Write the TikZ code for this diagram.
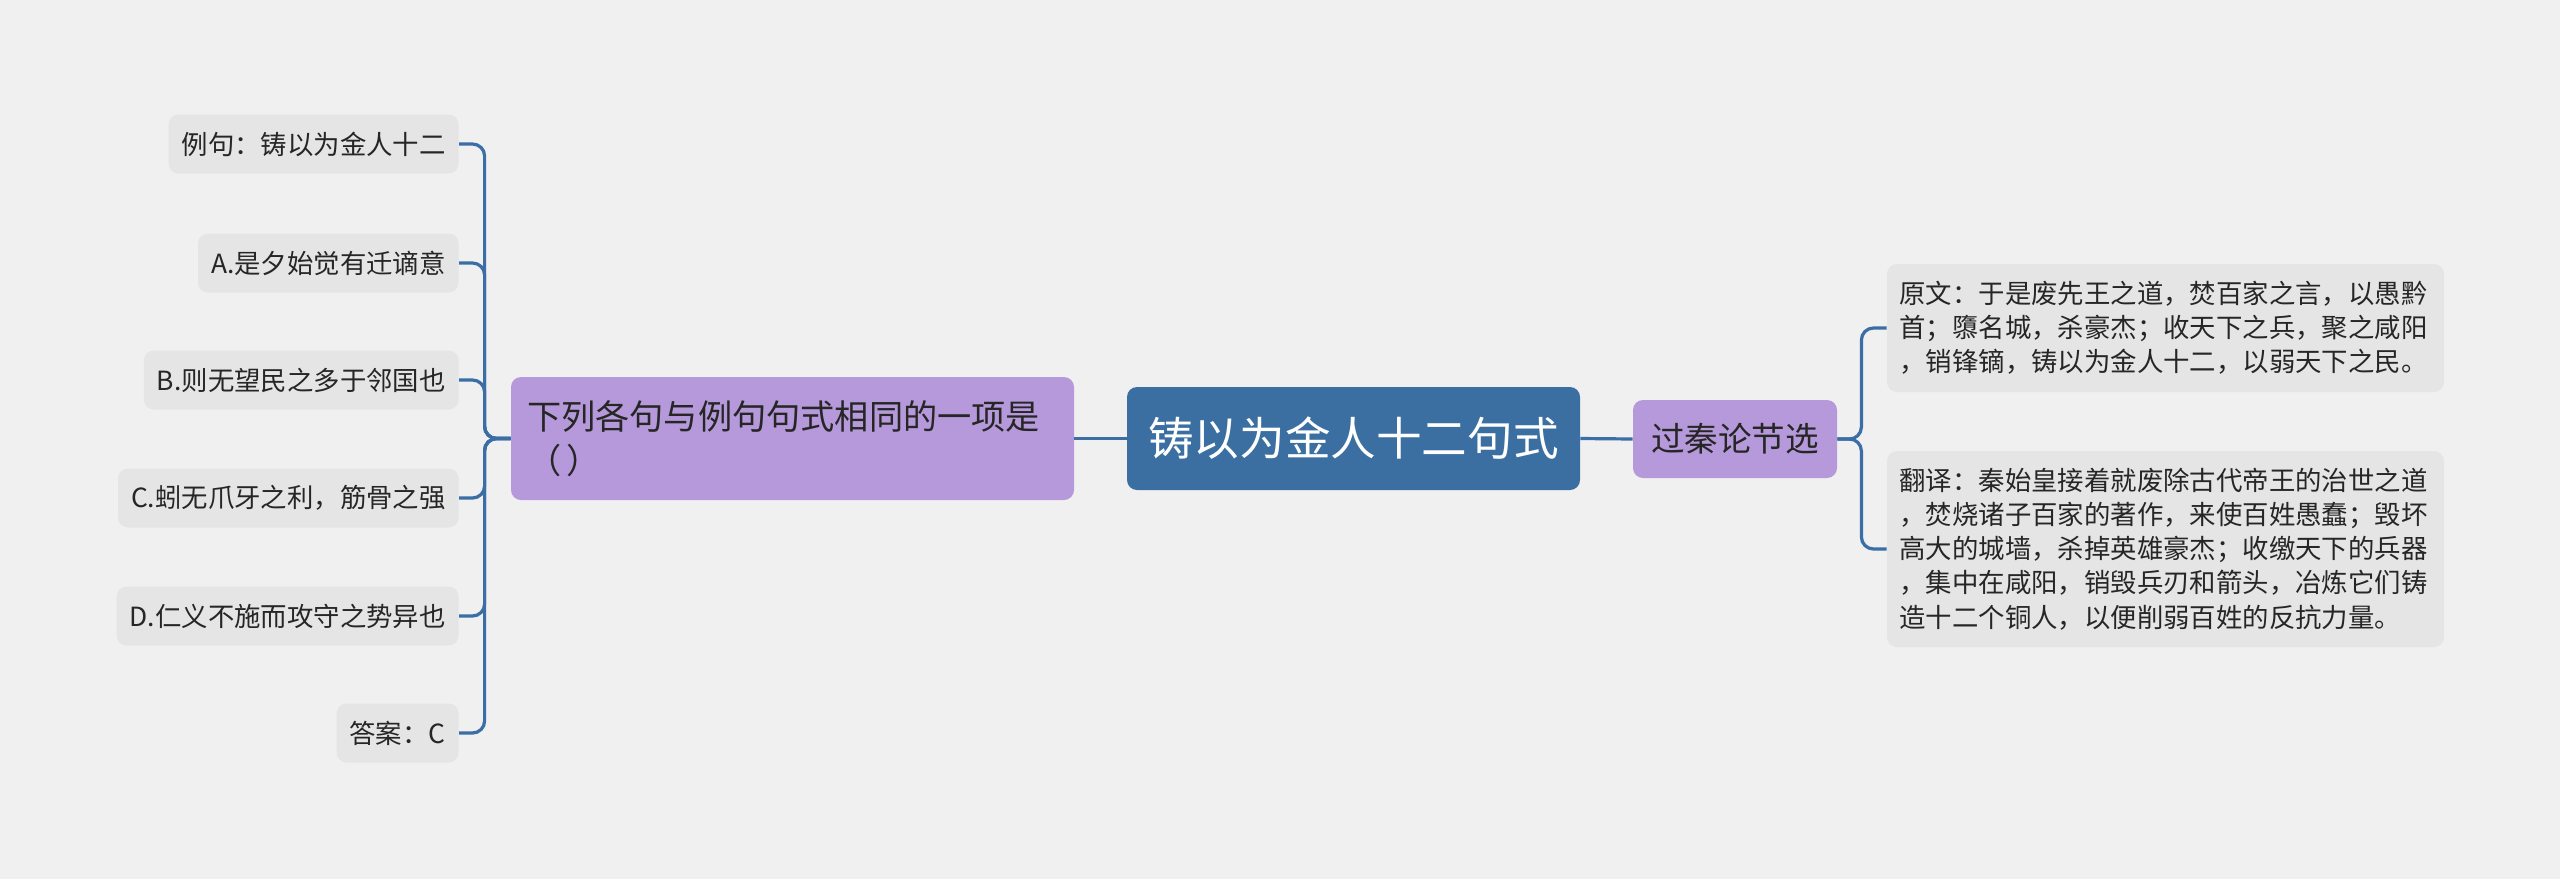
\documentclass[tikz,border=0pt]{standalone}
\usepackage{fontspec}
\setmainfont{Noto Sans CJK SC}
\usetikzlibrary{positioning}
\definecolor{bgcol}{HTML}{F0F0F0}
\definecolor{leafcol}{HTML}{E5E5E5}
\definecolor{purplecol}{HTML}{B699DB}
\definecolor{rootcol}{HTML}{3C6FA1}
\definecolor{linkcol}{HTML}{3A6EA5}
\definecolor{txtcol}{HTML}{262626}

\begin{document}
\begin{tikzpicture}[x=0.5pt,y=-0.5pt]
        \fill[bgcol] (0,0) rectangle (2560,879);
        \useasboundingbox (0,0) rectangle (2560,879);
        \begin{scope}[every node/.style={rounded corners=5pt,inner sep=0pt,text=txtcol}]
            \node[fill=rootcol,text=white,minimum width=226.5pt,minimum height=51.5pt,
                font=\fontsize{22.8}{27}\selectfont] (root) at (1353.5,438.5) {铸以为金人十二句式};
            \node[fill=purplecol,minimum height=61.5pt,text width=265.5pt,inner xsep=8pt,align=left,
                font=\fontsize{17.1}{22}\selectfont] (q) at (792.5,438.5) {下列各句与例句句式相同的一项是\\（\,）};
            \node[fill=purplecol,minimum width=102pt,minimum height=39pt,
                font=\fontsize{16.8}{20}\selectfont] (src) at (1735,439) {过秦论节选};
        \end{scope}
        \begin{scope}[every node/.style={rounded corners=5pt,fill=leafcol,text=txtcol,inner xsep=6.5pt,
            inner ysep=0pt,minimum height=29.5pt,anchor=east,font=\fontsize{13.2}{17}\selectfont}]
            \node (ex) at (459,144) {例句：铸以为金人十二};
            \node (a) at (459,263) {A.是夕始觉有迁谪意};
            \node (b) at (459,380) {B.则无望民之多于邻国也};
            \node (c) at (459,498) {C.蚓无爪牙之利，筋骨之强};
            \node (d) at (459,616) {D.仁义不施而攻守之势异也};
            \node (ans) at (459,733) {答案：C};
        \end{scope}
        \begin{scope}[every node/.style={rounded corners=5pt,fill=leafcol,text=txtcol,inner xsep=6.25pt,
            inner ysep=0pt,text width=266pt,align=left,font=\fontsize{13.2}{17.1}\selectfont}]
            \node[minimum height=64pt] (orig) at (2165.5,328) {原文：于是废先王之道，焚百家之言，以愚黔\\首；隳名城，杀豪杰；收天下之兵，聚之咸阳\\，销锋镝，铸以为金人十二，以弱天下之民。};
            \node[minimum height=98pt] (trans) at (2165.5,549) {翻译：秦始皇接着就废除古代帝王的治世之道\\，焚烧诸子百家的著作，来使百姓愚蠢；毁坏\\高大的城墙，杀掉英雄豪杰；收缴天下的兵器\\，集中在咸阳，销毁兵刃和箭头，冶炼它们铸\\造十二个铜人，以便削弱百姓的反抗力量。};
        \end{scope}
        \begin{scope}[every path/.style={draw=linkcol,line width=1.6pt,rounded corners=6pt}]
            \path (root.west) -- (q.east);
            \path (root.east) -- (src.west);
            \path (q.west) -- ++(-26,0) |- (ex.east);
            \path (q.west) -- ++(-26,0) |- (a.east);
            \path (q.west) -- ++(-26,0) |- (b.east);
            \path (q.west) -- ++(-26,0) |- (c.east);
            \path (q.west) -- ++(-26,0) |- (d.east);
            \path (q.west) -- ++(-26,0) |- (ans.east);
            \path (src.east) -- ++(24,0) |- (orig.west);
            \path (src.east) -- ++(24,0) |- (trans.west);
        \end{scope}
    \end{tikzpicture}
\end{document}
